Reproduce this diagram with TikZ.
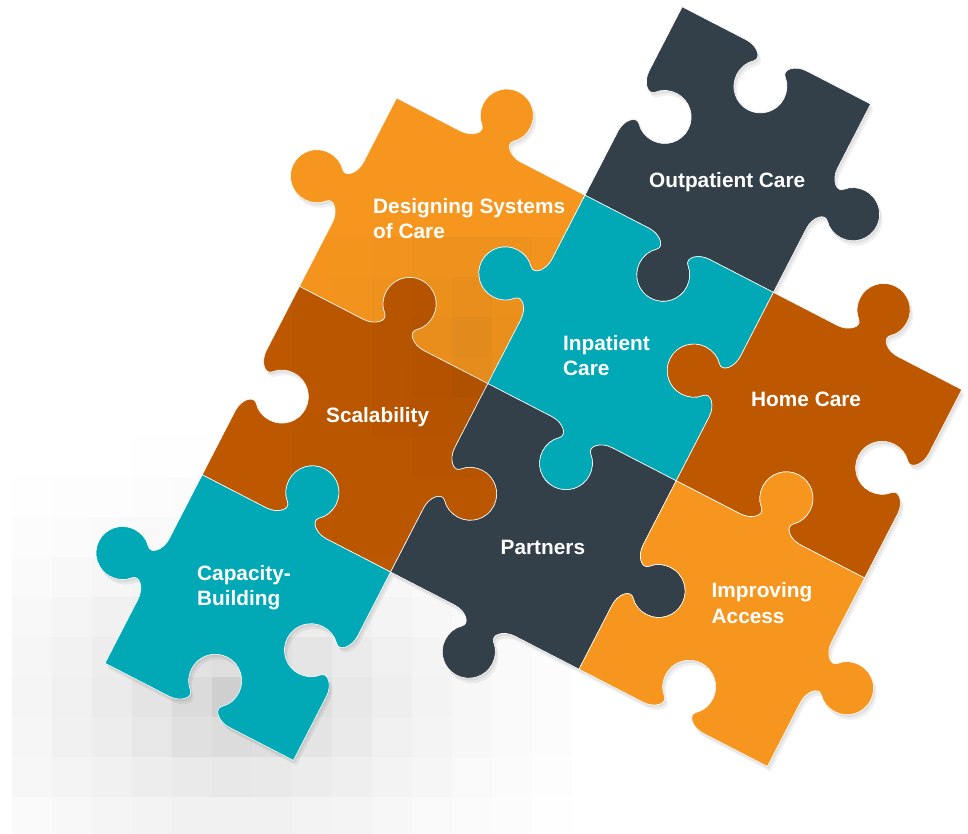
\documentclass[tikz,border=0pt]{standalone}
\usepackage{fontspec}
\setmainfont{Liberation Sans}
\definecolor{cOrange}{HTML}{F6961E}
\definecolor{cBrown}{HTML}{BD5700}
\definecolor{cTeal}{HTML}{00A9B5}
\definecolor{cSlate}{HTML}{333F49}
% one edge of a piece from (#1,#2) in direction (#3,#4); #5 = 1 knob out, -1 hole
\newcommand\pedge[5]{%
 -- ({#1+0.34*(#3)},{#2+0.34*(#4)})
 .. controls ({#1+0.40*(#3)},{#2+0.40*(#4)})
 and ({#1+0.446*(#3)+0.045*(#5)*(#4)},{#2+0.446*(#4)-0.045*(#5)*(#3)})
 .. ({#1+0.416*(#3)+0.072*(#5)*(#4)},{#2+0.416*(#4)-0.072*(#5)*(#3)})
 .. controls ({#1+0.389*(#3)+0.094*(#5)*(#4)},{#2+0.389*(#4)-0.094*(#5)*(#3)})
 and ({#1+0.375*(#3)+0.130*(#5)*(#4)},{#2+0.375*(#4)-0.130*(#5)*(#3)})
 .. ({#1+0.375*(#3)+0.165*(#5)*(#4)},{#2+0.375*(#4)-0.165*(#5)*(#3)})
 .. controls ({#1+0.375*(#3)+0.234*(#5)*(#4)},{#2+0.375*(#4)-0.234*(#5)*(#3)})
 and ({#1+0.431*(#3)+0.29*(#5)*(#4)},{#2+0.431*(#4)-0.29*(#5)*(#3)})
 .. ({#1+0.5*(#3)+0.29*(#5)*(#4)},{#2+0.5*(#4)-0.29*(#5)*(#3)})
 .. controls ({#1+0.569*(#3)+0.29*(#5)*(#4)},{#2+0.569*(#4)-0.29*(#5)*(#3)})
 and ({#1+0.625*(#3)+0.234*(#5)*(#4)},{#2+0.625*(#4)-0.234*(#5)*(#3)})
 .. ({#1+0.625*(#3)+0.165*(#5)*(#4)},{#2+0.625*(#4)-0.165*(#5)*(#3)})
 .. controls ({#1+0.625*(#3)+0.130*(#5)*(#4)},{#2+0.625*(#4)-0.130*(#5)*(#3)})
 and ({#1+0.611*(#3)+0.094*(#5)*(#4)},{#2+0.611*(#4)-0.094*(#5)*(#3)})
 .. ({#1+0.584*(#3)+0.072*(#5)*(#4)},{#2+0.584*(#4)-0.072*(#5)*(#3)})
 .. controls ({#1+0.554*(#3)+0.045*(#5)*(#4)},{#2+0.554*(#4)-0.045*(#5)*(#3)})
 and ({#1+0.60*(#3)},{#2+0.60*(#4)})
 .. ({#1+0.66*(#3)},{#2+0.66*(#4)})
 -- ({#1+#3},{#2+#4})}
% a piece in cell (#1,#2); edges top, right, bottom, left
\newcommand\piece[6]{(#1,#2) \pedge{#1}{#2}{1}{0}{#3} \pedge{#1+1}{#2}{0}{1}{#4}
 \pedge{#1+1}{#2+1}{-1}{0}{#5} \pedge{#1}{#2+1}{0}{-1}{#6} -- cycle}
\begin{document}
\begin{tikzpicture}[x=1pt,y=1pt,
  lbl/.style={text=white, font=\bfseries\fontsize{20.8}{25.5}\selectfont,
    align=left, inner sep=0pt, anchor=north west},
  pfill/.style={draw=white, line width=0.6pt},
  pshadow/.style={fill=black, opacity=0.06}]
\useasboundingbox (0,0) rectangle (968,-834);
\fill[white] (0,0) rectangle (968,-834);
% pixelated grey background
\foreach \c in {0,...,13}{\foreach \r in {-2,...,9}{
  \pgfmathsetmacro\g{max(0,22*exp(-sqrt(((32+40*\c-240)/160)^2+((457+40*\r-700)/110)^2))-2)}
  \fill[black!\g] ({12+40*\c},{-437-40*\r}) rectangle ++(40,-40);
}}
\begin{scope}[shift={(396.6,-98)}, x={(188.4pt,-97.2pt)}, y={(-97.2pt,-188.4pt)}]
  \foreach \dx/\dy in {1.5/-2.5, 3/-5}{
  \begin{scope}[shift={(\dx pt,\dy pt)}]
    \fill[pshadow] \piece{0}{0}{1}{-1}{-1}{1};
    \fill[pshadow] \piece{1}{-1}{-1}{1}{1}{-1};
    \fill[pshadow] \piece{2}{0}{1}{-1}{-1}{1};
    \fill[pshadow] \piece{0}{1}{1}{1}{-1}{-1};
    \fill[pshadow] \piece{1}{1}{-1}{1}{1}{-1};
    \fill[pshadow] \piece{0}{2}{1}{-1}{-1}{1};
    \fill[pshadow] \piece{2}{1}{1}{1}{-1}{-1};
  \end{scope}}
  \fill[cOrange, pfill] \piece{0}{0}{1}{-1}{-1}{1};   % Designing
  \fill[cSlate, pfill]  \piece{1}{-1}{-1}{1}{1}{-1};  % Outpatient
  \fill[cTeal, pfill]   \piece{1}{0}{-1}{-1}{1}{1};   % Inpatient
  \fill[cBrown, pfill]  \piece{2}{0}{1}{-1}{-1}{1};   % Home
  \fill[cBrown, pfill]  \piece{0}{1}{1}{1}{-1}{-1};   % Scalability
  \fill[cSlate, pfill]  \piece{1}{1}{-1}{1}{1}{-1};   % Partners
  \fill[cTeal, pfill]   \piece{0}{2}{1}{-1}{-1}{1};   % Capacity
  \fill[cOrange, pfill] \piece{2}{1}{1}{1}{-1}{-1};   % Improving
  % faint pixelated shade over the middle pieces
  \begin{scope}
    \clip \piece{0}{0}{1}{-1}{-1}{1} \piece{0}{1}{1}{1}{-1}{-1};
    \begin{scope}[x=1pt, y=1pt, shift={(-396.6,98)}]
      \foreach \c in {7,...,13}{\foreach \r in {-5,...,2}{
        \pgfmathsetmacro\o{0.09*exp(-sqrt(((32+40*\c-470)/70)^2+((457+40*\r-350)/90)^2))}
        \fill[black, opacity=\o] ({12+40*\c},{-437-40*\r}) rectangle ++(40,-40);
      }}
    \end{scope}
  \end{scope}
\end{scope}
\node[lbl] (design) at (373,-198) {Designing Systems\\of Care};
\node[lbl] (outp) at (649,-172) {Outpatient Care};
\node[lbl] (inp) at (563,-335) {Inpatient\\Care};
\node[lbl] (scal) at (326,-407) {Scalability};
\node[lbl] (home) at (751,-392) {Home Care};
\node[lbl] (part) at (500.5,-540) {Partners};
\node[lbl] (capa) at (197,-565) {Capacity-\\Building};
\node[lbl] (impr) at (711.5,-582.7) {Improving\\Access};
\end{tikzpicture}
\end{document}
